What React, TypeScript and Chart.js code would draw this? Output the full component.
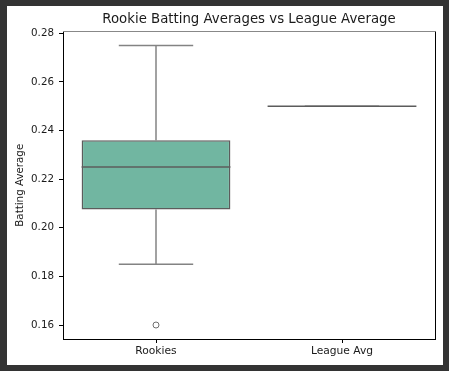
import React, { useEffect, useRef } from "react";
import { Chart, registerables } from "chart.js";

Chart.register(...registerables);

const categories = ["Rookies", "League Avg"];
const whiskerLow = [0.185, 0.25];
const q1 = [0.2075, 0.25];
const median = [0.225, 0.25];
const q3 = [0.236, 0.25];
const whiskerHigh = [0.275, 0.25];
const outliers: (number | null)[] = [0.16, null];
const boxColors = ["#71b6a1", "#e3a286"];
const yTickValues = [0.16, 0.18, 0.2, 0.22, 0.24, 0.26, 0.28];

const LINE = "#5c5c5c";
const FONT = "'DejaVu Sans', sans-serif";
const TEXT = "#1a1a1a";

const boxPlugin = {
  id: "boxDraw",
  afterDatasetsDraw(chart: any) {
    const { ctx, scales, chartArea } = chart;
    const x = scales.x;
    const y = scales.y;
    const half = (x.getPixelForValue(1) - x.getPixelForValue(0)) * 0.4;
    ctx.save();
    ctx.lineWidth = 1.5;
    categories.forEach((_, i) => {
      const cx = x.getPixelForValue(i);
      const yLo = y.getPixelForValue(whiskerLow[i]);
      const yQ1 = y.getPixelForValue(q1[i]);
      const yMed = y.getPixelForValue(median[i]);
      const yQ3 = y.getPixelForValue(q3[i]);
      const yHi = y.getPixelForValue(whiskerHigh[i]);
      ctx.strokeStyle = "rgba(90,90,90,0.75)";
      ctx.beginPath();
      ctx.moveTo(cx, yQ1);
      ctx.lineTo(cx, yLo);
      ctx.moveTo(cx, yQ3);
      ctx.lineTo(cx, yHi);
      ctx.moveTo(cx - half / 2, yLo);
      ctx.lineTo(cx + half / 2, yLo);
      ctx.moveTo(cx - half / 2, yHi);
      ctx.lineTo(cx + half / 2, yHi);
      ctx.stroke();
      ctx.strokeStyle = LINE;
      ctx.beginPath();
      ctx.moveTo(cx - half, yMed);
      ctx.lineTo(cx + half, yMed);
      ctx.stroke();
    });
    ctx.restore();
    ctx.save();
    ctx.lineWidth = 1;
    ctx.strokeStyle = "#000";
    ctx.beginPath();
    ctx.moveTo(Math.round(chartArea.right) + 0.5, chartArea.top);
    ctx.lineTo(Math.round(chartArea.right) + 0.5, chartArea.bottom);
    ctx.stroke();
    ctx.strokeStyle = "#888";
    ctx.beginPath();
    ctx.moveTo(chartArea.left, Math.round(chartArea.top) + 0.5);
    ctx.lineTo(chartArea.right, Math.round(chartArea.top) + 0.5);
    ctx.stroke();
    ctx.restore();
  },
};

export default function App() {
  const ref = useRef<HTMLCanvasElement>(null);
  useEffect(() => {
    if (!ref.current) return;
    const chart = new Chart(ref.current, {
      type: "bar",
      data: {
        labels: categories,
        datasets: [
          {
            type: "bar",
            data: categories.map((_, i) => [q1[i], q3[i]]) as any,
            backgroundColor: boxColors,
            borderColor: LINE,
            borderWidth: 1.5,
            borderSkipped: false,
            barPercentage: 0.8,
            categoryPercentage: 1,
            order: 2,
          },
          {
            type: "line",
            data: outliers as any,
            showLine: false,
            pointRadius: 3,
            pointBackgroundColor: "rgba(0,0,0,0)",
            pointBorderColor: "#6e6e6e",
            pointBorderWidth: 1,
            order: 1,
          } as any,
        ],
      },
      options: {
        responsive: false,
        animation: false,
        layout: { padding: { left: 0, right: 8, top: 0, bottom: 0 } },
        plugins: {
          legend: { display: false },
          tooltip: { enabled: false },
          title: {
            display: true,
            fullSize: false,
            text: "Rookie Batting Averages vs League Average",
            color: TEXT,
            font: { family: FONT, size: 13.3, weight: "normal" as any, lineHeight: 1.2 },
            padding: { top: 6, bottom: 3.5 },
          },
        },
        scales: {
          x: {
            offset: true,
            grid: {
              display: true,
              offset: false,
              drawOnChartArea: false,
              tickLength: 4,
              color: "#000",
            },
            border: { display: true, color: "#000", width: 1 },
            ticks: { color: TEXT, font: { family: FONT, size: 10.7 }, padding: 2 },
            afterFit: (s: any) => {
              s.height = 26;
            },
          },
          y: {
            min: 0.15425,
            max: 0.28075,
            afterBuildTicks: (s: any) => {
              s.ticks = yTickValues.map((v) => ({ value: v }));
            },
            grid: {
              display: true,
              drawOnChartArea: false,
              tickLength: 4,
              color: "#000",
            },
            border: { display: true, color: "#000", width: 1 },
            ticks: {
              color: TEXT,
              font: { family: FONT, size: 10.3 },
              padding: 5,
              callback: (v: any) => Number(v).toFixed(2),
            },
            title: {
              display: true,
              text: "Batting Average",
              color: TEXT,
              font: { family: FONT, size: 10.3 },
              padding: { top: 7, bottom: 0 },
            },
            afterFit: (s: any) => {
              s.width = 56;
            },
          },
        },
      },
      plugins: [boxPlugin],
    });
    return () => chart.destroy();
  }, []);
  return (
    <div style={{ position: "fixed", left: 0, top: 0, width: 449, height: 371, background: "#333" }}>
      <canvas
        ref={ref}
        width={436}
        height={359}
        style={{ position: "absolute", left: 7, top: 6, width: 436, height: 359, background: "#fff" }}
      />
    </div>
  );
}
